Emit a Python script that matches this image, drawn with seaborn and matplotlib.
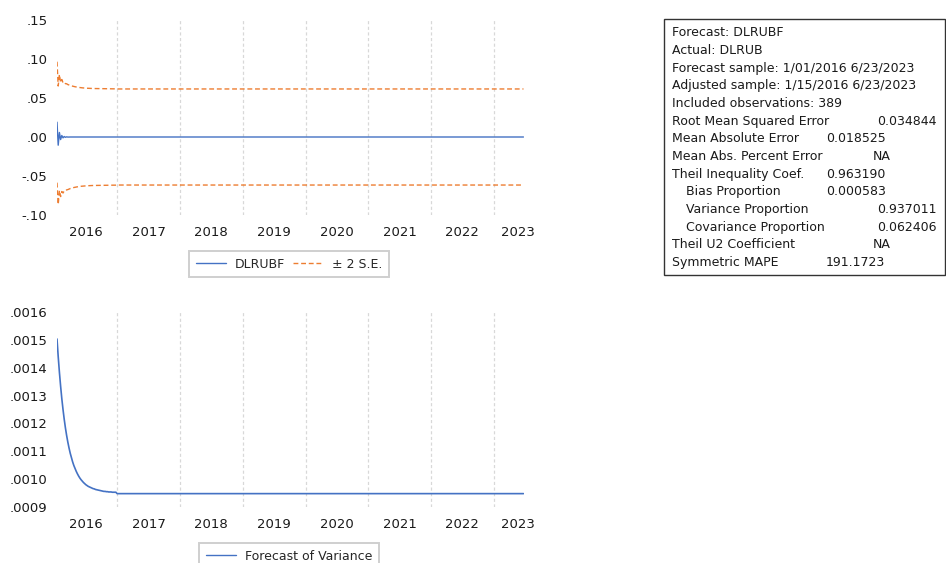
import numpy as np
import pandas as pd
import matplotlib
matplotlib.use("Agg")
import matplotlib.pyplot as plt
from matplotlib.lines import Line2D
import seaborn as sns

# ---------------------------------------------------------------- data
start_date = "2016-01-15"
end_date = "2023-06-23"

# DLRUBF dynamic forecast: damped oscillation over the first weeks, then flat
dlrubf_head = [0.0190, -0.0105, 0.0058, -0.0033, 0.0019, -0.0011,
               0.0006, -0.0004, 0.0002, -0.0001]
dlrubf_level = 0.0

# Forecast of variance, decaying toward its long-run level
variance_head = [0.001503, 0.001440, 0.001384, 0.001334, 0.001289, 0.001250,
                 0.001215, 0.001184, 0.001157, 0.001133, 0.001112, 0.001093,
                 0.001077, 0.001062, 0.001049, 0.001038, 0.001028, 0.001019,
                 0.001011, 0.001004, 0.000998, 0.000993, 0.000988, 0.000984,
                 0.000980, 0.000977, 0.000974, 0.000972, 0.000970, 0.000968,
                 0.000966, 0.000965, 0.000963, 0.000962, 0.000961, 0.000960,
                 0.000959, 0.000958, 0.000957, 0.000956, 0.000956, 0.000955,
                 0.000955, 0.000954, 0.000954, 0.000954, 0.000953, 0.000953,
                 0.000953, 0.000953]
variance_level = 0.000948

year_labels = ["2016", "2017", "2018", "2019", "2020", "2021", "2022", "2023"]
top_yticks = [-0.10, -0.05, 0.00, 0.05, 0.10, 0.15]
top_yticklabels = ["-.10", "-.05", ".00", ".05", ".10", ".15"]
bottom_yticks = [0.0009, 0.0010, 0.0011, 0.0012, 0.0013, 0.0014, 0.0015, 0.0016]
bottom_yticklabels = [".0009", ".0010", ".0011", ".0012", ".0013", ".0014",
                      ".0015", ".0016"]

stats_labels = ["Forecast: DLRUBF", "Actual: DLRUB",
                "Forecast sample: 1/01/2016 6/23/2023",
                "Adjusted sample: 1/15/2016 6/23/2023",
                "Included observations: 389",
                "Root Mean Squared Error", "Mean Absolute Error",
                "Mean Abs. Percent Error", "Theil Inequality Coef.",
                "Bias Proportion", "Variance Proportion",
                "Covariance Proportion", "Theil U2 Coefficient",
                "Symmetric MAPE"]
stats_values = ["", "", "", "", "", "0.034844", "0.018525", "NA", "0.963190",
                "0.000583", "0.937011", "0.062406", "NA", "191.1723"]

# ---------------------------------------------------------------- build frame
dates = pd.date_range(start_date, end_date, freq="W-FRI")
n = len(dates)
dlrubf = np.array(dlrubf_head + [dlrubf_level] * (n - len(dlrubf_head)))
variance = np.array(variance_head + [variance_level] * (n - len(variance_head)))
se2 = 2.0 * np.sqrt(variance)
df = pd.DataFrame({"date": dates, "DLRUBF": dlrubf,
                   "upper": dlrubf + se2, "lower": dlrubf - se2,
                   "variance": variance})

# ---------------------------------------------------------------- style
sns.set_style("white")
plt.rcParams["font.family"] = ["DejaVu Sans"]
BLUE = "#4472C4"
ORANGE = "#ED7D31"
GRID = "#d8d8d8"
TEXT = "#1a1a1a"
DASH = (0, (3.5, 2))

W, H = 946, 563
fig = plt.figure(figsize=(W / 100, H / 100), dpi=100)


def px_axes(x0, y0, x1, y1):
    return fig.add_axes([x0 / W, 1 - y1 / H, (x1 - x0) / W, (y1 - y0) / H])


ax_top = px_axes(57, 20, 523.5, 215)
ax_bot = px_axes(57, 312, 523.5, 507)

sns.lineplot(data=df, x="date", y="DLRUBF", ax=ax_top, color=BLUE, lw=1.0)
sns.lineplot(data=df, x="date", y="upper", ax=ax_top, color=ORANGE, lw=1.0,
             linestyle=DASH)
sns.lineplot(data=df, x="date", y="lower", ax=ax_top, color=ORANGE, lw=1.0,
             linestyle=DASH)
sns.lineplot(data=df, x="date", y="variance", ax=ax_bot, color=BLUE, lw=1.2)

tick_dates = [pd.Timestamp(f"{y}-07-01") for y in year_labels[:-1]] + \
             [pd.Timestamp(f"{year_labels[-1]}-05-24")]
grid_dates = [pd.Timestamp(f"{y}-01-01") for y in year_labels[1:]]

for ax, yt, ytl in ((ax_top, top_yticks, top_yticklabels),
                    (ax_bot, bottom_yticks, bottom_yticklabels)):
    ax.set_xlim(dates[0], dates[-1])
    ax.set_ylim(yt[0], yt[-1])
    ax.set_yticks(yt)
    ax.set_yticklabels(ytl)
    ax.set_xticks(tick_dates)
    ax.set_xticklabels(year_labels)
    ax.set_xlabel("")
    ax.set_ylabel("")
    for g in grid_dates:
        ax.axvline(g, color=GRID, lw=0.9, linestyle=(0, (2.5, 2)), zorder=0)
    for s in ax.spines.values():
        s.set_visible(False)
    ax.tick_params(axis="both", length=0, labelsize=9.5, colors=TEXT)
    ax.tick_params(axis="x", pad=8)
    ax.tick_params(axis="y", pad=7)
    ax.grid(False)

# ---------------------------------------------------------------- legends
leg_kw = dict(loc="center", frameon=True, fancybox=False, fontsize=9,
              handlelength=2.4, handletextpad=0.75, borderpad=0.5,
              columnspacing=0.6, edgecolor="#cfcfcf", framealpha=1)
leg1 = fig.legend(handles=[Line2D([], [], color=BLUE, lw=1.0),
                           Line2D([], [], color=ORANGE, lw=1.0,
                                  linestyle=DASH)],
                  labels=["DLRUBF", "\u00b1 2 S.E."], ncol=2,
                  bbox_to_anchor=(289 / W, 1 - 264 / H), **leg_kw)
leg1.get_frame().set_linewidth(1.4)
leg2 = fig.legend(handles=[Line2D([], [], color=BLUE, lw=1.0)],
                  labels=["Forecast of Variance"],
                  bbox_to_anchor=(289 / W, 1 - 556 / H), **leg_kw)
leg2.get_frame().set_linewidth(1.4)

# ---------------------------------------------------------------- stats box
box = plt.Rectangle((663.5 / W, 1 - 275 / H), (944.5 - 663.5) / W,
                    (275 - 19.5) / H, transform=fig.transFigure,
                    fill=False, edgecolor="#333333", lw=1.0)
fig.patches.append(box)

indented = {"Bias Proportion", "Variance Proportion", "Covariance Proportion"}
value_x = {"0.034844": 877, "0.018525": 826, "NA": 873, "0.963190": 826,
           "0.000583": 826, "0.937011": 877, "0.062406": 877, "191.1723": 826}
y0, dy = 32.7, 17.68
for i, (lab, val) in enumerate(zip(stats_labels, stats_values)):
    y = 1 - (y0 + i * dy) / H
    x = 686 if lab in indented else 672
    fig.text(x / W, y, lab, fontsize=9, va="center", ha="left", color=TEXT)
    if val:
        fig.text(value_x[val] / W, y, val, fontsize=9, va="center",
                 ha="left", color=TEXT)

fig.savefig("out.png", dpi=100)
